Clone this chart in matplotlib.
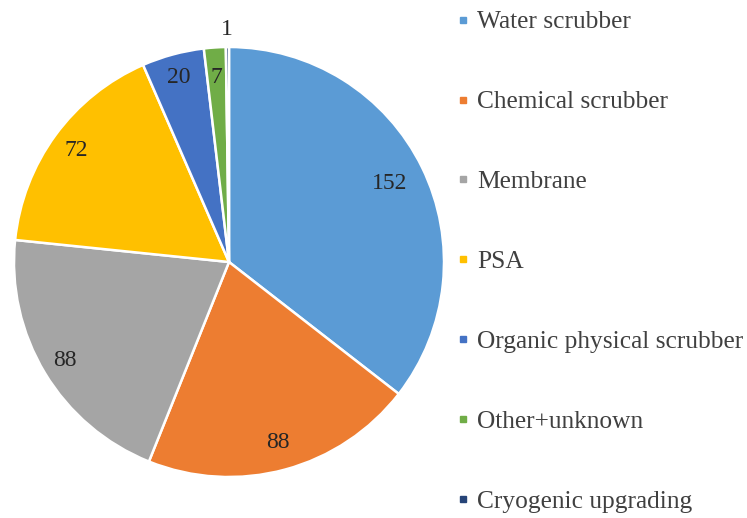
import matplotlib
matplotlib.use("Agg")
import matplotlib.pyplot as plt
from matplotlib.lines import Line2D
import numpy as np

plt.rcParams['font.family'] = ['Liberation Serif', 'DejaVu Serif']

categories = ['Water scrubber', 'Chemical scrubber', 'Membrane', 'PSA',
              'Organic physical scrubber', 'Other+unknown', 'Cryogenic upgrading']
counts = [152, 88, 88, 72, 20, 7, 1]
colors = ['#5B9BD5', '#ED7D31', '#A5A5A5', '#FFC000', '#4472C4', '#70AD47', '#264478']

W, H = 747, 518
fig = plt.figure(figsize=(W / 100, H / 100), dpi=100)

# pie centre (229, 262) px, radius 215 px
cx, cy, r = 229, 262, 215
ax = fig.add_axes([(cx - r) / W, (H - cy - r) / H, 2 * r / W, 2 * r / H])
wedges, _ = ax.pie(counts, colors=colors, startangle=90, counterclock=False,
                   radius=1.0, wedgeprops=dict(edgecolor='white', linewidth=1.8))
ax.set_xlim(-1, 1)
ax.set_ylim(-1, 1)
ax.set_aspect('equal')
ax.axis('off')

# data labels, placed along each wedge's mid angle
label_dist = [0.83, 0.87, 0.89, 0.88, 0.89, 0.86, 1.08]
for w, v, d in zip(wedges, counts, label_dist):
    mid = np.deg2rad((w.theta1 + w.theta2) / 2)
    ax.text(d * np.cos(mid), d * np.sin(mid), str(v), ha='center', va='center',
            fontsize=17, color='#262626', clip_on=False)

handles = [Line2D([0], [0], marker='s', linestyle='none', markersize=4.5,
                  markerfacecolor=c, markeredgecolor=c) for c in colors]
fig.legend(handles, categories, loc='upper left',
           bbox_to_anchor=(452 / W, 1 - 3 / H), frameon=False,
           fontsize=18.3, labelcolor='#404040', handlelength=0.3,
           handletextpad=0.4, labelspacing=2.25, borderpad=0.0, borderaxespad=0.3)

fig.savefig('out.png', dpi=100)
